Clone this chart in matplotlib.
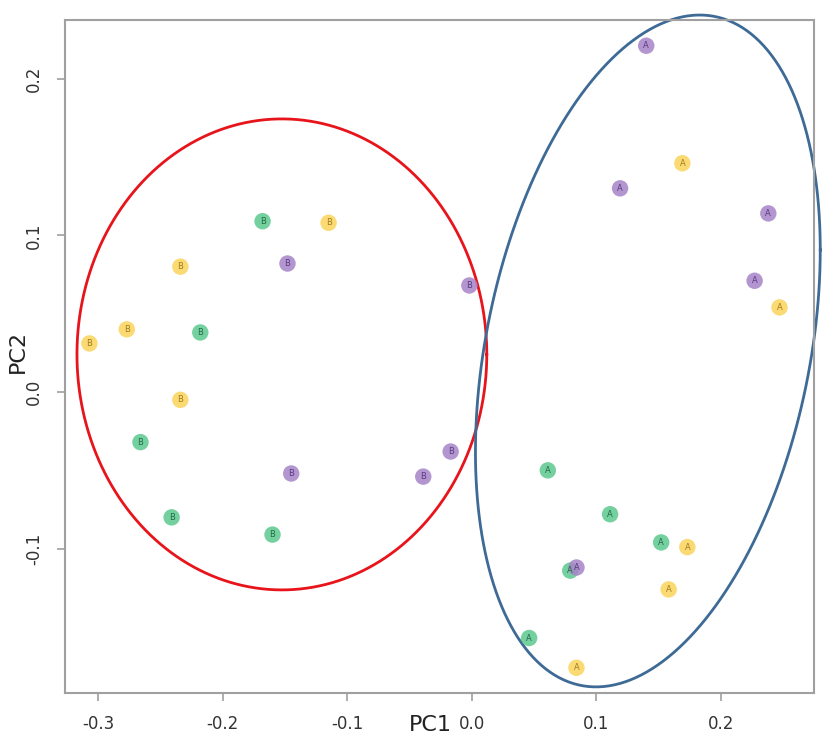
import numpy as np
import matplotlib.pyplot as plt

# PCA scores
group_labels = ["B"] * 15 + ["A"] * 15
pc1 = [-0.307, -0.277, -0.234, -0.234, -0.115,
       -0.168, -0.218, -0.266, -0.241, -0.160,
       -0.148, -0.145, -0.039, -0.017, -0.002,
       0.140, 0.169, 0.119, 0.238, 0.227,
       0.247, 0.061, 0.111, 0.152, 0.173,
       0.079, 0.084, 0.158, 0.046, 0.084]
pc2 = [0.031, 0.040, 0.080, -0.005, 0.108,
       0.109, 0.038, -0.032, -0.080, -0.091,
       0.082, -0.052, -0.054, -0.038, 0.068,
       0.221, 0.146, 0.130, 0.114, 0.071,
       0.054, -0.050, -0.078, -0.096, -0.099,
       -0.114, -0.112, -0.126, -0.157, -0.176]
batch = ["y", "y", "y", "y", "y",
         "g", "g", "g", "g", "g",
         "p", "p", "p", "p", "p",
         "p", "y", "p", "p", "p",
         "y", "g", "g", "g", "y",
         "g", "p", "y", "g", "y"]

# ellipse: centre x, centre y, half width x, half height y, phase (deg)
ell_B = [-0.1525, 0.024, 0.1645, 0.1503, 90.0]
ell_A = [0.1413, 0.0262, 0.1384, 0.2144, 72.5]

fill = {"y": "#FBD35A", "g": "#5CC88E", "p": "#A684C8"}
txt = {"y": "#A07C20", "g": "#246B44", "p": "#5A3A82"}

fig = plt.figure(figsize=(8.27, 7.45), dpi=100)
ax = fig.add_axes([0.0786, 0.0698, 0.9054, 0.9033])

for x, y, b, lab in zip(pc1, pc2, batch, group_labels):
    ax.scatter(x, y, s=140, color=fill[b], alpha=0.85, edgecolors="none", zorder=3)
    ax.text(x, y, lab, fontsize=6, color=txt[b], ha="center", va="center", zorder=4)

t = np.linspace(0, 2 * np.pi, 400)
for e, c in [(ell_B, "#E8141B"), (ell_A, "#3E6A96")]:
    cx, cy, hx, hy, ph = e
    ax.plot(cx + hx * np.cos(t), cy + hy * np.cos(t + np.radians(ph)),
            color=c, lw=2, zorder=2, clip_on=False)

ax.set_xlim(-0.3266, 0.2745)
ax.set_ylim(-0.1921, 0.2374)
ax.set_xticks([-0.3, -0.2, -0.1, 0.0, 0.1, 0.2])
ax.set_xticklabels(["-0.3", "-0.2", "-0.1", "0.0", "0.1", "0.2"])
ax.set_yticks([-0.1, 0.0, 0.1, 0.2])
ax.set_yticklabels(["-0.1", "0.0", "0.1", "0.2"], rotation=90, va="center")

for s in ax.spines.values():
    s.set_color("#A0A0A0")
    s.set_linewidth(1.5)
ax.tick_params(colors="#A0A0A0", labelcolor="#333333", labelsize=12, length=6, width=1.2, pad=10)

fig.text(430 / 827, 1 - 725 / 745, "PC1", fontsize=16, ha="center", va="center", color="#222222")
fig.text(18 / 827, 1 - 352 / 745, "PC2", fontsize=16, ha="center", va="center", rotation=90, color="#222222")

fig.savefig("out.png", dpi=100)
